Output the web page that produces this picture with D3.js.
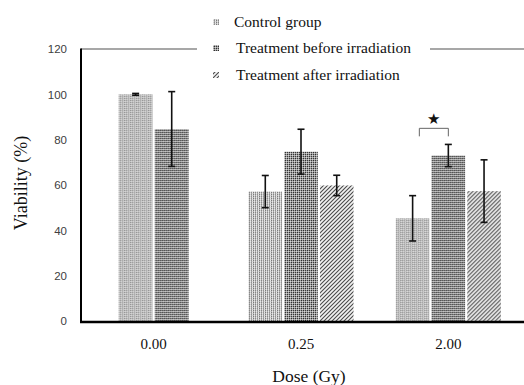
<!DOCTYPE html>
<html>
<head>
<meta charset="utf-8">
<script src="https://cdn.jsdelivr.net/npm/d3@7"></script>
<style>
  body { margin: 0; background: #fff; }
  svg { display: block; }
</style>
</head>
<body>
<div id="chart"></div>
<script>
// data
var doses = ["0.00", "0.25", "2.00"];
var seriesNames = ["Control group", "Treatment before irradiation", "Treatment after irradiation"];
var controlMean = [100, 57.1, 45.3];
var controlErr = [0.4, 7.1, 10.0];
var beforeMean = [84.7, 74.7, 73.0];
var beforeErr = [16.5, 9.9, 4.9];
var afterMean = [null, 59.8, 57.3];
var afterErr = [null, 4.5, 13.8];
var yTicks = [0, 20, 40, 60, 80, 100, 120];
var sigPair = { dose: "2.00", from: 0, to: 1, level: 85 };

var width = 524, height = 385;
var margin = { top: 49, left: 81, bottom: 63, right: 2 };

var svg = d3.select("#chart").append("svg")
  .attr("width", width)
  .attr("height", height);

// fill patterns
var defs = svg.append("defs");

var pCtrl = defs.append("pattern").attr("id", "pat-ctrl")
  .attr("patternUnits", "userSpaceOnUse").attr("width", 6).attr("height", 2);
pCtrl.append("rect").attr("width", 6).attr("height", 2).attr("fill", "#e8e8e8");
[[0, 0, "#7a7a7a"], [0, 1, "#b8b8b8"], [1, 0, "#d0d0d0"], [2, 0, "#888"], [2, 1, "#aaa"],
 [3, 0, "#d4d4d4"], [4, 0, "#909090"], [4, 1, "#a4a4a4"], [5, 1, "#d8d8d8"]]
  .forEach(function (d) {
    pCtrl.append("rect").attr("x", d[0]).attr("y", d[1]).attr("width", 1).attr("height", 1).attr("fill", d[2]);
  });

var pBef = defs.append("pattern").attr("id", "pat-bef")
  .attr("patternUnits", "userSpaceOnUse").attr("width", 4).attr("height", 4);
pBef.append("rect").attr("width", 4).attr("height", 4).attr("fill", "#9c9c9c");
[[0, 0, "#2e2e2e"], [2, 0, "#3a3a3a"], [0, 2, "#3a3a3a"], [2, 2, "#2e2e2e"],
 [1, 1, "#d8d8d8"], [3, 3, "#d8d8d8"], [1, 3, "#c8c8c8"], [3, 1, "#c8c8c8"]]
  .forEach(function (d) {
    pBef.append("rect").attr("x", d[0]).attr("y", d[1]).attr("width", 1).attr("height", 1).attr("fill", d[2]);
  });

var pAft = defs.append("pattern").attr("id", "pat-aft")
  .attr("patternUnits", "userSpaceOnUse").attr("width", 4).attr("height", 4);
pAft.append("rect").attr("width", 4).attr("height", 4).attr("fill", "#f2f2f2");
pAft.append("path")
  .attr("d", "M0,4 L4,0 M-1,1 L1,-1 M3,5 L5,3")
  .attr("stroke", "#4a4a4a")
  .attr("stroke-width", 1.1);

var fills = ["url(#pat-ctrl)", "url(#pat-bef)", "url(#pat-aft)"];

// scales
var x0 = d3.scaleBand()
  .domain(doses)
  .range([80, 522]);

var yScale = d3.scaleLinear()
  .domain([0, 120])
  .range([height - margin.bottom - 1, margin.top]);

var means = [controlMean, beforeMean, afterMean];
var errs = [controlErr, beforeErr, afterErr];

var groups = doses.map(function (dose, i) {
  var present = [];
  seriesNames.forEach(function (s, k) {
    if (means[k][i] != null) present.push(k);
  });
  var step = 35;
  var x1 = d3.scaleBand()
    .domain(present)
    .range([-present.length * step / 2, present.length * step / 2])
    .paddingInner(0.06);
  return {
    dose: dose,
    x1: x1,
    bars: present.map(function (k) {
      return { k: k, mean: means[k][i], err: errs[k][i] };
    })
  };
});

// top frame line (gray)
svg.append("line")
  .attr("x1", margin.left).attr("x2", width)
  .attr("y1", yScale(120)).attr("y2", yScale(120))
  .attr("stroke", "#8a8a8a")
  .attr("stroke-width", 1.5);

// y axis labels
var yAxis = d3.axisLeft(yScale)
  .tickValues(yTicks)
  .tickSize(0)
  .tickPadding(14);

var gY = svg.append("g")
  .attr("transform", "translate(" + margin.left + ",0)")
  .call(yAxis);
gY.select(".domain").remove();
gY.selectAll("text")
  .attr("font-family", "'Liberation Sans', Arial, sans-serif")
  .attr("font-size", 11.5)
  .attr("fill", "#404040");

// bars
var gGroups = svg.selectAll(".grp")
  .data(groups)
  .enter().append("g")
  .attr("class", "grp")
  .attr("transform", function (g) { return "translate(" + (x0(g.dose) + x0.bandwidth() / 2) + ",0)"; });

gGroups.each(function (g) {
  var sel = d3.select(this);
  sel.selectAll("rect.bar")
    .data(g.bars)
    .enter().append("rect")
    .attr("class", "bar")
    .attr("x", function (d) { return g.x1(d.k); })
    .attr("width", g.x1.bandwidth())
    .attr("y", function (d) { return yScale(d.mean); })
    .attr("height", function (d) { return yScale(0) - yScale(d.mean); })
    .attr("fill", function (d) { return fills[d.k]; });

  var eb = sel.selectAll("g.err")
    .data(g.bars)
    .enter().append("g")
    .attr("class", "err")
    .attr("stroke", "#111")
    .attr("stroke-width", 1.6);
  eb.append("line")
    .attr("x1", function (d) { return g.x1(d.k) + g.x1.bandwidth() / 2; })
    .attr("x2", function (d) { return g.x1(d.k) + g.x1.bandwidth() / 2; })
    .attr("y1", function (d) { return yScale(d.mean + d.err); })
    .attr("y2", function (d) { return yScale(d.mean - d.err); });
  [1, -1].forEach(function (sgn) {
    eb.append("line")
      .attr("x1", function (d) { return g.x1(d.k) + g.x1.bandwidth() / 2 - 3.5; })
      .attr("x2", function (d) { return g.x1(d.k) + g.x1.bandwidth() / 2 + 3.5; })
      .attr("y1", function (d) { return yScale(d.mean + sgn * d.err); })
      .attr("y2", function (d) { return yScale(d.mean + sgn * d.err); });
  });
});

// significance bracket
var sg = groups[doses.indexOf(sigPair.dose)];
var sx0 = x0(sg.dose) + x0.bandwidth() / 2;
var bxA = sx0 + sg.x1(sigPair.from) + sg.x1.bandwidth() * 0.7;
var bxB = sx0 + sg.x1(sigPair.to) + sg.x1.bandwidth() / 2;
var by = yScale(sigPair.level);
svg.append("path")
  .attr("d", "M" + bxA + "," + (by + 8) + "V" + by + "H" + bxB + "V" + (by + 8))
  .attr("fill", "none")
  .attr("stroke", "#666")
  .attr("stroke-width", 1);
svg.append("text")
  .attr("x", (bxA + bxB) / 2)
  .attr("y", by - 4)
  .attr("text-anchor", "middle")
  .attr("font-family", "'DejaVu Sans', sans-serif")
  .attr("font-size", 15)
  .attr("fill", "#111")
  .text("\u2605");

// axis lines
svg.append("line")
  .attr("x1", margin.left).attr("x2", margin.left)
  .attr("y1", yScale(120) - 0.5).attr("y2", yScale(0) + 1)
  .attr("stroke", "#000").attr("stroke-width", 2);
svg.append("line")
  .attr("x1", margin.left - 1).attr("x2", width)
  .attr("y1", yScale(0) + 1).attr("y2", yScale(0) + 1)
  .attr("stroke", "#000").attr("stroke-width", 2.5);

// x tick labels
svg.selectAll(".xlab")
  .data(groups)
  .enter().append("text")
  .attr("class", "xlab")
  .attr("x", function (g) { return x0(g.dose) + x0.bandwidth() / 2; })
  .attr("y", 349)
  .attr("text-anchor", "middle")
  .attr("font-family", "'Liberation Serif', 'Times New Roman', serif")
  .attr("font-size", 15)
  .attr("fill", "#111")
  .text(function (g) { return g.dose; });

// axis titles
svg.append("text")
  .attr("x", 309).attr("y", 382)
  .attr("text-anchor", "middle")
  .attr("font-family", "'Liberation Serif', 'Times New Roman', serif")
  .attr("font-size", 17.5)
  .attr("fill", "#111")
  .text("Dose (Gy)");

svg.append("text")
  .attr("transform", "translate(27,183) rotate(-90)")
  .attr("text-anchor", "middle")
  .attr("font-family", "'Liberation Serif', 'Times New Roman', serif")
  .attr("font-size", 18)
  .attr("fill", "#111")
  .text("Viability (%)");

// legend
var legend = svg.append("g");
legend.append("rect")
  .attr("x", 197).attr("y", 6)
  .attr("width", 233).attr("height", 82)
  .attr("fill", "#fff");
var rowY = [22, 48, 75];
var items = legend.selectAll(".li")
  .data(seriesNames)
  .enter().append("g")
  .attr("class", "li")
  .attr("transform", function (d, i) { return "translate(0," + rowY[i] + ")"; });
items.append("rect")
  .attr("x", 213).attr("y", -3)
  .attr("width", 6).attr("height", 6)
  .attr("fill", function (d, i) { return fills[i]; });
items.append("text")
  .attr("x", function (d, i) { return i === 0 ? 234 : 236; })
  .attr("y", 5)
  .attr("font-family", "'Liberation Serif', 'Times New Roman', serif")
  .attr("font-size", 15.5)
  .attr("fill", "#111")
  .text(function (d) { return d; });
</script>
</body>
</html>
